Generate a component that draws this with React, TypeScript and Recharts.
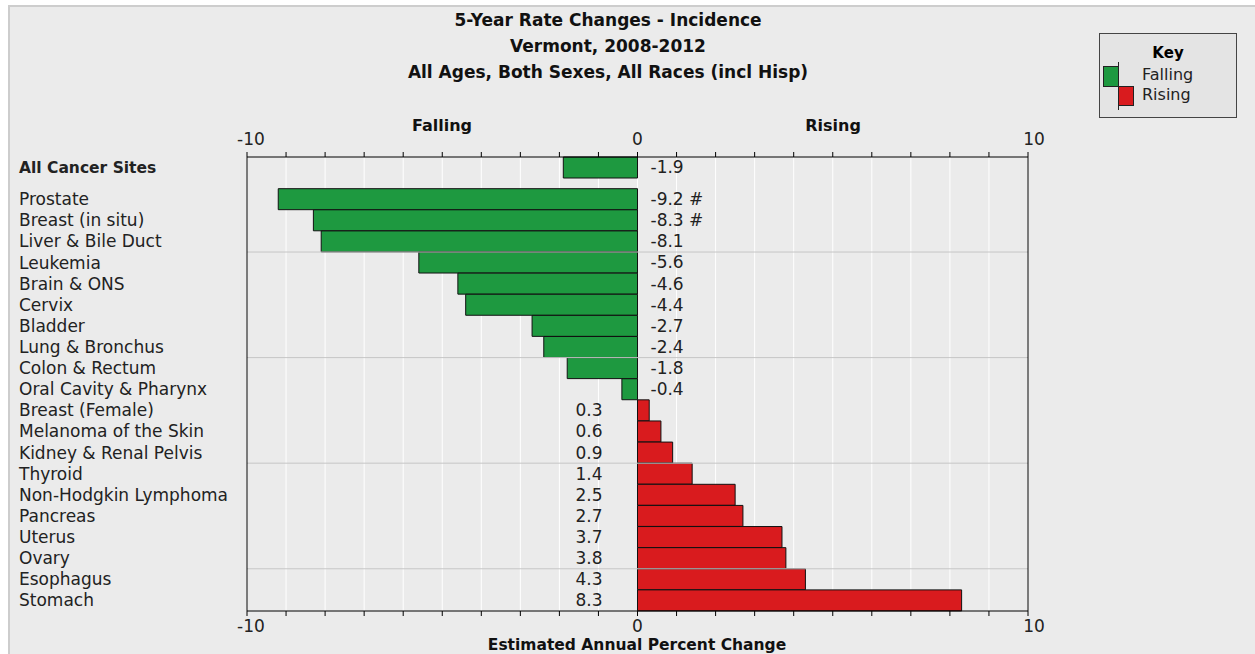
import {
  BarChart, Bar, XAxis, YAxis, CartesianGrid, ReferenceLine, LabelList, Cell
} from "recharts";

const categories = [
  "All Cancer Sites",
  "Prostate",
  "Breast (in situ)",
  "Liver & Bile Duct",
  "Leukemia",
  "Brain & ONS",
  "Cervix",
  "Bladder",
  "Lung & Bronchus",
  "Colon & Rectum",
  "Oral Cavity & Pharynx",
  "Breast (Female)",
  "Melanoma of the Skin",
  "Kidney & Renal Pelvis",
  "Thyroid",
  "Non-Hodgkin Lymphoma",
  "Pancreas",
  "Uterus",
  "Ovary",
  "Esophagus",
  "Stomach",
];

const apcValues = [
  -1.9, -9.2, -8.3, -8.1, -5.6, -4.6, -4.4, -2.7, -2.4, -1.8, -0.4,
  0.3, 0.6, 0.9, 1.4, 2.5, 2.7, 3.7, 3.8, 4.3, 8.3,
];

const notes = ["", "#", "#", "", "", "", "", "", "", "", "", "", "", "", "", "", "", "", "", "", ""];

const xTicks = [-10, -9, -8, -7, -6, -5, -4, -3, -2, -1, 0, 1, 2, 3, 4, 5, 6, 7, 8, 9, 10];
const groupBreaks = [4, 9, 14, 19];

const FONT = "'DejaVu Sans', sans-serif";
const GREEN = "#1e9940";
const RED = "#d91b1e";

// "All Cancer Sites" sits half a row above the rest
const data = categories.map((name, i) => ({
  name,
  pos: i === 0 ? 0 : i + 0.5,
  value: apcValues[i],
  note: notes[i],
}));

const CategoryTick = (props: any) => {
  const { y, payload } = props;
  const row = data.find(d => d.pos === payload.value);
  if (!row) return null;
  const bold = row.pos === 0;
  return (
    <text x={19} y={y} dy="0.35em" textAnchor="start" fontFamily={FONT}
      fontSize={bold ? 15.5 : 17} fontWeight={bold ? "bold" : "normal"} fill="#222">
      {row.name}
    </text>
  );
};

// only -10 / 0 / 10 get a label; the end labels sit a little right of their tick
const XTick = (props: any) => {
  const { x, y, payload, orientation } = props;
  const v = payload.value;
  if (v % 10 !== 0) return null;
  const dx = v < 0 ? 4 : v > 0 ? 6 : 0;
  return (
    <text x={x + dx} y={y} dy={orientation === "top" ? "-0.2em" : "0.75em"} textAnchor="middle"
      fontFamily={FONT} fontSize={17} fill="#222">{v}</text>
  );
};

const ValueLabel = (props: any) => {
  const { x, y, width, height, value, index } = props;
  const left = Math.min(x, x + width);
  const right = Math.max(x, x + width);
  const note = data[index]?.note;
  const text = value + (note ? " " + note : "");
  if (value < 0) {
    return (
      <text x={right + 13} y={y + height / 2} dy="0.35em" textAnchor="start"
        fontFamily={FONT} fontSize={17} fill="#222">{text}</text>
    );
  }
  return (
    <text x={left - 35} y={y + height / 2} dy="0.35em" textAnchor="end"
      fontFamily={FONT} fontSize={17} fill="#222">{text}</text>
  );
};

const Key = () => (
  <div style={{
    position: "absolute", left: 1099, top: 33, width: 136, height: 83,
    border: "1px solid #444", background: "#e4e4e4", fontFamily: FONT,
  }}>
    <div style={{ position: "absolute", left: 0, right: 0, top: 10, textAlign: "center", fontWeight: "bold", fontSize: 15 }}>Key</div>
    <svg width={40} height={60} style={{ position: "absolute", left: 0, top: 26 }}>
      <rect x={3.5} y={6.5} width={15} height={20} fill={GREEN} stroke="#222" />
      <rect x={18.5} y={26.5} width={15} height={19} fill={RED} stroke="#222" />
      <line x1={18.5} x2={18.5} y1={2} y2={50} stroke="#222" />
    </svg>
    <div style={{ position: "absolute", left: 42, top: 31, fontSize: 16, color: "#222" }}>Falling</div>
    <div style={{ position: "absolute", left: 42, top: 51, fontSize: 16, color: "#222" }}>Rising</div>
  </div>
);

const Title = ({ text, top, left, width, size = 17, lh = 20 }: { text: string; top: number; left: number; width: number; size?: number; lh?: number }) => (
  <div style={{
    position: "absolute", top, left, width, textAlign: "center",
    fontFamily: FONT, fontWeight: "bold", fontSize: size, color: "#111", lineHeight: lh + "px",
  }}>{text}</div>
);

export default function App() {
  return (
    <div style={{ position: "absolute", left: 0, top: 0, width: 1255, height: 654, overflow: "hidden", background: "#fff" }}>
      <div style={{
        position: "absolute", left: 8, top: 5, width: 1270, height: 680,
        border: "2px solid #cdcdcd", background: "#ebebeb",
      }} />
      <Title text="5-Year Rate Changes - Incidence" top={10} left={408} width={400} />
      <Title text="Vermont, 2008-2012" top={36} left={408} width={400} />
      <Title text="All Ages, Both Sexes, All Races (incl Hisp)" top={62} left={358} width={500} />
      <Title text="Falling" top={116} left={342} width={200} size={16} />
      <Title text="Rising" top={116} left={733} width={200} size={16} />
      <Title text="Estimated Annual Percent Change" top={636} left={437} width={400} size={15.5} lh={18} />
      <Key />
      <div style={{ position: "absolute", left: 0, top: 0 }}>
        <BarChart
          width={1255}
          height={654}
          data={data}
          layout="vertical"
          margin={{ top: 137, right: 227, bottom: 23, left: 19 }}
        >
          <CartesianGrid xAxisId="bottom" yAxisId="cat" horizontal={false} stroke="#ffffff" />
          <XAxis xAxisId="top" orientation="top" type="number" domain={[-10, 10]} allowDataOverflow
            ticks={xTicks} interval={0} height={20} tickSize={5} tickMargin={4}
            axisLine={{ stroke: "#000" }} tickLine={{ stroke: "#000" }} tick={<XTick />} />
          <XAxis xAxisId="bottom" orientation="bottom" type="number" domain={[-10, 10]} allowDataOverflow
            ticks={xTicks} interval={0} height={20} tickSize={5} tickMargin={3}
            axisLine={{ stroke: "#000" }} tickLine={{ stroke: "#000" }} tick={<XTick />} />
          <YAxis yAxisId="cat" type="number" dataKey="pos" domain={[-0.5, 21]}
            ticks={data.map(d => d.pos)} interval={0} width={228}
            tickLine={false} axisLine={{ stroke: "#000" }} tick={<CategoryTick />} />
          {groupBreaks.map(b => (
            <ReferenceLine key={b} xAxisId="bottom" yAxisId="cat" y={b} stroke="#c6c6c6" />
          ))}
          <ReferenceLine xAxisId="bottom" yAxisId="cat" x={10} stroke="#000" />
          <Bar xAxisId="bottom" yAxisId="cat" dataKey="value" barSize={21}
            stroke="#111" strokeWidth={1} isAnimationActive={false}>
            {data.map(d => (
              <Cell key={d.name} fill={d.value < 0 ? GREEN : RED} />
            ))}
            <LabelList dataKey="value" content={<ValueLabel />} />
          </Bar>
        </BarChart>
      </div>
    </div>
  );
}
